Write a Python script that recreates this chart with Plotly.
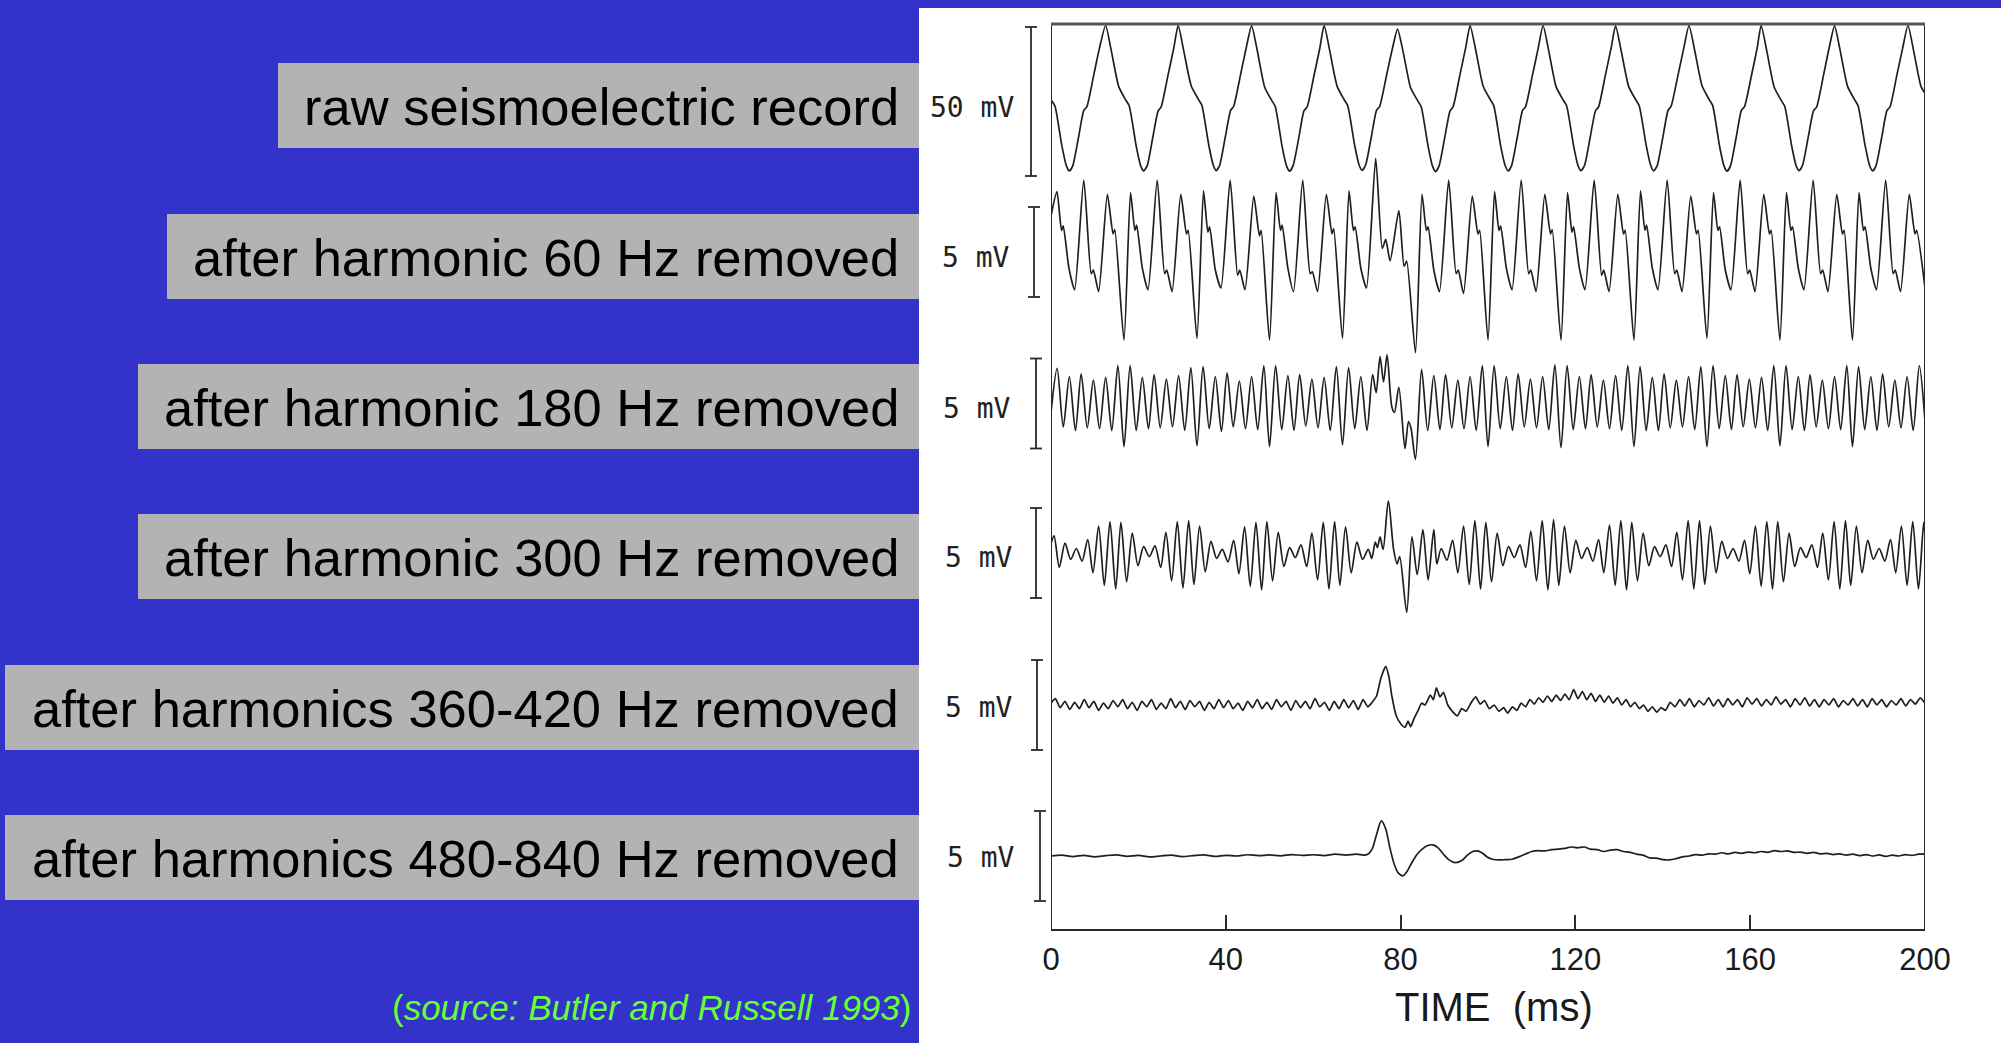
import plotly.graph_objects as go

W, H = 2001, 1043
BLUE = "#3333CC"
GREY = "#B3B3B3"
GREEN = "#66FF33"
INK = "#1f1f1f"
SANS = "Liberation Sans, Arial, sans-serif"
MONO = "DejaVu Sans Mono, monospace"

# ---------------------------------------------------------------- text
LABELS = [
    "raw seismoelectric record",
    "after harmonic 60 Hz removed",
    "after harmonic 180 Hz removed",
    "after harmonic 300 Hz removed",
    "after harmonics 360-420 Hz removed",
    "after harmonics 480-840 Hz removed",
]
SCALE_TEXT = ["50 mV", "5 mV", "5 mV", "5 mV", "5 mV", "5 mV"]
SCALE_MV = [50, 5, 5, 5, 5, 5]
TIME_TICKS = [0, 40, 80, 120, 160, 200]
SOURCE = "(<i>source: Butler and Russell 1993</i>)"
X_TITLE = "TIME\u00a0\u00a0(ms)"

# ---------------------------------------------------------------- records (time in ms, voltage in mV)
raw_t = [
    0.0, 0.9, 2.5, 3.5, 4.2, 5.0, 6.3, 7.5, 8.2, 9.8, 11.1,
    12.5, 13.8, 15.5, 17.1, 17.9, 19.5, 20.5, 21.2, 22.0, 23.3, 24.5, 25.2, 26.8, 28.1,
    29.1, 30.4, 32.1, 33.7, 34.5, 36.1, 37.1, 37.8, 38.6, 39.9, 41.1, 41.8, 43.4, 44.7,
    45.9, 47.2, 48.9, 50.5, 51.3, 52.9, 53.9, 54.6, 55.4, 56.7, 57.9, 58.6, 60.2, 61.5,
    62.5, 63.8, 65.5, 67.1, 67.9, 69.5, 70.5, 71.2, 72.0, 73.3, 74.5, 75.2, 76.8, 78.1,
    79.3, 80.6, 82.3, 83.9, 84.7, 86.3, 87.3, 88.0, 88.8, 90.1, 91.3, 92.0, 93.6, 94.9,
    95.9, 97.2, 98.9, 100.5, 101.3, 102.9, 103.9, 104.6, 105.4, 106.7, 107.9, 108.6, 110.2, 111.5,
    112.6, 113.9, 115.6, 117.2, 118.0, 119.6, 120.6, 121.3, 122.1, 123.4, 124.6, 125.3, 126.9, 128.2,
    129.2, 130.5, 132.2, 133.8, 134.6, 136.2, 137.2, 137.9, 138.7, 140.0, 141.2, 141.9, 143.5, 144.8,
    146.0, 147.3, 149.0, 150.6, 151.4, 153.0, 154.0, 154.7, 155.5, 156.8, 158.0, 158.7, 160.3, 161.6,
    162.5, 163.8, 165.5, 167.1, 167.9, 169.5, 170.5, 171.2, 172.0, 173.3, 174.5, 175.2, 176.8, 178.1,
    179.3, 180.6, 182.3, 183.9, 184.7, 186.3, 187.3, 188.0, 188.8, 190.1, 191.3, 192.0, 193.6, 194.9,
    196.1, 197.4, 199.1, 200.0,
]
raw_mv = [
    0.6, -1.5, -15.0, -21.5, -23.3, -21.5, -12.0, -3.0, -1.8, 9.0, 18.0,
    25.5, 17.0, 5.0, 0.5, -1.5, -15.0, -21.5, -23.3, -21.6, -12.0, -3.2, -1.8, 9.0, 18.0,
    25.5, 16.8, 5.2, 0.8, -1.2, -14.6, -21.2, -23.2, -21.4, -11.8, -3.0, -1.6, 9.2, 18.2,
    25.4, 17.1, 4.8, 0.4, -1.6, -15.2, -21.6, -23.4, -21.5, -12.2, -3.1, -1.9, 8.8, 17.8,
    25.5, 16.9, 5.0, 0.6, -1.4, -14.8, -21.3, -23.1, -21.3, -11.9, -2.9, -1.7, 8.9, 17.6,
    24.3, 16.5, 4.6, 0.3, -1.7, -15.1, -21.7, -23.5, -21.6, -12.1, -3.2, -1.8, 9.1, 18.1,
    25.5, 17.2, 5.1, 0.7, -1.3, -14.9, -21.4, -23.3, -21.5, -12.0, -3.0, -1.7, 9.0, 18.0,
    25.5, 17.0, 4.9, 0.5, -1.5, -15.0, -21.5, -23.2, -21.4, -11.9, -3.1, -1.8, 9.1, 18.1,
    25.4, 16.8, 5.0, 0.6, -1.4, -14.7, -21.3, -23.3, -21.6, -12.1, -3.0, -1.6, 9.0, 17.9,
    25.5, 17.1, 5.2, 0.7, -1.3, -15.1, -21.6, -23.4, -21.5, -12.0, -2.9, -1.7, 8.8, 18.0,
    25.5, 16.9, 4.8, 0.4, -1.6, -15.0, -21.5, -23.2, -21.3, -11.8, -3.1, -1.9, 9.0, 18.2,
    25.4, 17.0, 5.0, 0.6, -1.5, -14.8, -21.4, -23.3, -21.5, -12.0, -3.0, -1.8, 9.1, 18.0,
    25.5, 17.0, 5.0, 2.8,
]

h60_t = [
    0.0, 1.35, 2.4, 2.8, 4.1, 5.4, 7.5, 9.2, 9.7, 10.9, 12.9, 14.2, 14.6,
    16.7, 18.2, 19.2, 19.6, 20.9, 22.2, 24.3, 26.0, 26.5, 27.7, 29.7, 31.0, 31.4,
    33.4, 34.9, 35.9, 36.3, 37.6, 38.9, 41.0, 42.7, 43.2, 44.4, 46.4, 47.7, 48.1,
    50.0, 51.5, 52.5, 52.9, 54.2, 55.5, 57.6, 59.3, 59.8, 61.0, 63.0, 64.3, 64.7,
    66.7, 68.2, 69.2, 69.6, 70.9, 72.2, 74.3, 75.8, 76.6, 77.6, 79.6, 80.8, 81.4,
    83.4, 84.9, 85.9, 86.3, 87.6, 88.9, 91.0, 92.7, 93.2, 94.4, 96.4, 97.7, 98.1,
    100.0, 101.5, 102.5, 102.9, 104.2, 105.5, 107.6, 109.3, 109.8, 111.0, 113.0, 114.3, 114.7,
    116.7, 118.2, 119.2, 119.6, 120.9, 122.2, 124.3, 126.0, 126.5, 127.7, 129.7, 131.0, 131.4,
    133.4, 134.9, 135.9, 136.3, 137.6, 138.9, 141.0, 142.7, 143.2, 144.4, 146.4, 147.7, 148.1,
    150.1, 151.6, 152.6, 153.0, 154.3, 155.6, 157.7, 159.4, 159.9, 161.1, 163.1, 164.4, 164.8,
    166.8, 168.3, 169.3, 169.7, 171.0, 172.3, 174.4, 176.1, 176.6, 177.8, 179.8, 181.1, 181.5,
    183.4, 184.9, 185.9, 186.3, 187.6, 188.9, 191.0, 192.7, 193.2, 194.4, 196.4, 197.7, 198.1, 200.0,
]
h60_mv = [
    2.0, 3.35, 1.2, 1.45, -0.9, -2.1, 4.0, -1.2, -1.0, -2.2, 3.2, 1.0, 1.25,
    -4.9, 3.3, 1.2, 1.5, -0.9, -2.1, 4.0, -1.2, -1.0, -2.2, 3.2, 1.0, 1.2,
    -4.8, 3.4, 1.1, 1.4, -1.0, -2.0, 4.0, -1.3, -1.0, -2.1, 3.1, 0.9, 1.2,
    -4.9, 3.3, 1.2, 1.5, -0.9, -2.2, 4.0, -1.2, -1.1, -2.2, 3.2, 1.0, 1.3,
    -4.8, 3.4, 1.2, 1.4, -0.9, -2.0, 5.2, 0.2, 0.7, -0.5, 2.3, -0.8, -0.5,
    -5.6, 3.2, 1.2, 1.4, -1.0, -2.2, 4.0, -1.2, -1.0, -2.3, 3.1, 1.0, 1.2,
    -4.9, 3.35, 1.2, 1.45, -0.9, -2.1, 4.0, -1.2, -1.0, -2.2, 3.2, 1.0, 1.25,
    -4.9, 3.3, 1.1, 1.4, -0.9, -2.1, 4.0, -1.3, -1.0, -2.2, 3.2, 1.0, 1.2,
    -4.9, 3.4, 1.2, 1.5, -0.9, -2.1, 4.0, -1.2, -1.0, -2.2, 3.1, 1.0, 1.2,
    -4.8, 3.3, 1.2, 1.4, -1.0, -2.1, 4.0, -1.2, -1.0, -2.2, 3.2, 1.0, 1.2,
    -4.9, 3.3, 1.2, 1.4, -0.9, -2.1, 4.0, -1.2, -1.0, -2.2, 3.2, 1.0, 1.2,
    -4.9, 3.3, 1.2, 1.4, -0.9, -2.1, 4.0, -1.2, -1.0, -2.2, 3.2, 1.0, 1.2, -2.0,
]

h180_t = [
    0.0, 1.4, 2.8, 4.2, 5.6, 6.9, 8.3, 9.7, 11.1, 12.5, 13.9, 15.3,
    16.7, 18.1, 19.5, 20.9, 22.3, 23.6, 25.0, 26.4, 27.8, 29.2, 30.6, 32.0,
    33.4, 34.8, 36.2, 37.6, 39.0, 40.3, 41.7, 43.1, 44.5, 45.9, 47.3, 48.7,
    50.0, 51.4, 52.8, 54.2, 55.6, 56.9, 58.3, 59.7, 61.1, 62.5, 63.9, 65.3,
    66.7, 68.1, 69.5, 70.9, 72.3, 73.6, 74.4, 75.3, 76.1, 76.9, 78.0, 78.6, 79.6, 81.0, 81.8, 82.4,
    83.4, 84.8, 86.2, 87.6, 89.0, 90.3, 91.7, 93.1, 94.5, 95.9, 97.3, 98.7,
    100.0, 101.4, 102.8, 104.2, 105.6, 106.9, 108.3, 109.7, 111.1, 112.5, 113.9, 115.3,
    116.7, 118.1, 119.5, 120.9, 122.3, 123.6, 125.0, 126.4, 127.8, 129.2, 130.6, 132.0,
    133.4, 134.8, 136.2, 137.6, 139.0, 140.3, 141.7, 143.1, 144.5, 145.9, 147.3, 148.7,
    150.1, 151.5, 152.9, 154.3, 155.7, 157.0, 158.4, 159.8, 161.2, 162.6, 164.0, 165.4,
    166.8, 168.2, 169.6, 171.0, 172.4, 173.7, 175.1, 176.5, 177.9, 179.3, 180.7, 182.1,
    183.4, 184.8, 186.2, 187.6, 189.0, 190.3, 191.7, 193.1, 194.5, 195.9, 197.3, 198.7, 200.0,
]
h180_mv = [
    -0.5, 1.95, -1.3, 1.5, -1.5, 1.65, -1.35, 1.3, -1.4, 1.45, -1.5, 2.1,
    -2.4, 2.1, -1.5, 1.45, -1.4, 1.6, -1.35, 1.35, -1.3, 1.55, -1.5, 2.0,
    -2.35, 2.05, -1.4, 1.5, -1.55, 1.7, -1.3, 1.25, -1.4, 1.5, -1.45, 2.1,
    -2.4, 2.1, -1.45, 1.55, -1.5, 1.6, -1.25, 1.35, -1.35, 1.45, -1.5, 2.05,
    -2.3, 2.0, -1.4, 1.5, -1.5, 1.6, 0.6, 2.6, 1.2, 2.7, -0.2, -0.5, 0.9, -2.5, -1.0, -1.4,
    -3.1, 1.9, -1.5, 1.55, -1.45, 1.6, -1.35, 1.3, -1.4, 1.5, -1.5, 2.1,
    -2.4, 2.1, -1.4, 1.5, -1.5, 1.65, -1.3, 1.35, -1.35, 1.5, -1.45, 2.15,
    -2.45, 2.1, -1.45, 1.5, -1.4, 1.6, -1.3, 1.3, -1.4, 1.55, -1.5, 2.1,
    -2.4, 2.05, -1.5, 1.45, -1.5, 1.65, -1.35, 1.3, -1.3, 1.5, -1.45, 2.05,
    -2.4, 2.1, -1.4, 1.55, -1.45, 1.6, -1.3, 1.35, -1.35, 1.45, -1.5, 2.1,
    -2.35, 2.1, -1.45, 1.5, -1.5, 1.6, -1.3, 1.3, -1.4, 1.5, -1.45, 2.1,
    -2.4, 2.05, -1.45, 1.5, -1.5, 1.65, -1.3, 1.3, -1.35, 1.5, -1.5, 2.1, -1.0,
]

h300_t = [
    0.0, 0.7, 1.9, 3.2, 4.5,
    5.8, 7.1, 8.4, 9.6, 10.9, 12.2, 13.5, 14.8, 16.0, 17.3, 18.6, 19.9, 21.2,
    22.5, 23.8, 25.1, 26.3, 27.6, 28.9, 30.2, 31.5, 32.7, 34.0, 35.3, 36.6, 37.9,
    39.2, 40.5, 41.8, 43.0, 44.3, 45.6, 46.9, 48.2, 49.4, 50.7, 52.0, 53.3, 54.6,
    55.9, 57.2, 58.5, 59.7, 61.0, 62.3, 63.6, 64.9, 66.1, 67.4, 68.7, 70.0, 71.3,
    72.6, 73.4, 74.2, 74.7, 75.3, 76.0, 77.2, 78.4, 79.2, 79.8, 81.4, 82.6, 83.8, 85.1, 86.3, 87.6, 88.3,
    89.3, 90.6, 91.9, 93.1, 94.4, 95.7, 97.0, 98.3, 99.5, 100.8, 102.1, 103.4, 104.7,
    106.0, 107.3, 108.6, 109.8, 111.1, 112.4, 113.7, 115.0, 116.2, 117.5, 118.8, 120.1, 121.4,
    122.7, 124.0, 125.3, 126.5, 127.8, 129.1, 130.4, 131.7, 132.9, 134.2, 135.5, 136.8, 138.1,
    139.4, 140.7, 142.0, 143.2, 144.5, 145.8, 147.1, 148.4, 149.6, 150.9, 152.2, 153.5, 154.8,
    156.1, 157.4, 158.7, 159.9, 161.2, 162.5, 163.8, 165.1, 166.3, 167.6, 168.9, 170.2, 171.5,
    172.8, 174.1, 175.4, 176.6, 177.9, 179.2, 180.5, 181.8, 183.0, 184.3, 185.6, 186.9, 188.2,
    189.5, 190.8, 192.1, 193.3, 194.6, 195.9, 197.2, 198.5, 199.7, 200.0,
]
h300_mv = [
    0.5, 0.95, -0.8, 0.55, -0.35,
    0.25, -0.45, 0.75, -1.1, 1.5, -1.8, 1.75, -2.0, 1.7, -1.6, 1.1, -0.7, 0.35,
    -0.2, 0.4, -0.8, 1.15, -1.55, 1.75, -1.95, 1.8, -1.75, 1.5, -1.05, 0.65, -0.3,
    0.2, -0.5, 0.7, -1.15, 1.45, -1.85, 1.7, -2.05, 1.75, -1.55, 1.15, -0.75, 0.3,
    -0.25, 0.45, -0.75, 1.1, -1.5, 1.7, -2.0, 1.75, -1.8, 1.45, -1.1, 0.6, -0.35,
    0.2, -0.3, 0.6, 0.3, 0.9, 0.2, 2.9, 0.2, -0.6, -0.2, -3.3, 0.9, -1.2, 1.3, -1.5, 1.3, -0.6,
    0.25, -0.4, 0.7, -1.1, 1.5, -1.75, 1.8, -2.0, 1.7, -1.6, 1.1, -0.7, 0.35,
    -0.25, 0.45, -0.8, 1.2, -1.55, 1.8, -2.05, 1.85, -1.8, 1.5, -1.1, 0.7, -0.3,
    0.3, -0.45, 0.75, -1.1, 1.55, -1.8, 1.8, -2.05, 1.7, -1.55, 1.1, -0.7, 0.35,
    -0.2, 0.45, -0.75, 1.15, -1.5, 1.8, -2.0, 1.8, -1.75, 1.5, -1.1, 0.65, -0.3,
    0.25, -0.45, 0.7, -1.15, 1.5, -1.85, 1.75, -2.0, 1.75, -1.6, 1.1, -0.75, 0.3,
    -0.25, 0.45, -0.8, 1.1, -1.5, 1.75, -2.0, 1.8, -1.8, 1.5, -1.1, 0.7, -0.35,
    0.25, -0.45, 0.75, -1.1, 1.5, -1.8, 1.75, -2.0, 1.7, 1.0,
]

h420_t = [
    0.0, 1.0, 2.1, 3.2, 4.3, 5.4, 6.5, 7.6, 8.7, 9.8,
    10.9, 12.0, 13.1, 14.2, 15.3, 16.4, 17.5, 18.6, 19.7, 20.8,
    21.9, 23.0, 24.1, 25.2, 26.3, 27.4, 28.5, 29.6, 30.7, 31.8,
    32.9, 34.0, 35.1, 36.2, 37.3, 38.4, 39.5, 40.6, 41.7, 42.8,
    43.9, 45.0, 46.1, 47.2, 48.3, 49.4, 50.5, 51.6, 52.7, 53.8,
    54.9, 56.0, 57.1, 58.2, 59.3, 60.4, 61.5, 62.6, 63.7, 64.8,
    65.9, 67.0, 68.1, 69.2, 70.3, 71.4, 72.5,
    73.5, 74.5, 75.5, 76.6, 77.3, 78.0, 79.0, 80.2, 81.0, 81.7,
    82.3, 83.0, 84.0, 84.8, 85.6, 86.8, 87.5, 88.2, 89.0, 89.8,
    90.8, 92.0, 93.0, 94.0, 95.0, 96.2, 97.2, 98.2, 99.2, 100.3,
    101.4, 102.5, 103.6, 104.5, 105.6, 106.6, 107.6, 108.6, 109.6, 110.6,
    111.6, 112.6, 113.6, 114.6, 115.6, 116.6, 117.6, 118.6, 119.6, 120.6,
    121.6, 122.6, 123.6, 124.6, 125.6, 126.6, 127.6, 128.6, 129.6, 130.6,
    131.6, 132.6, 133.6, 134.6, 135.6, 136.6, 137.6, 138.6, 139.6, 140.6,
    141.7, 142.8, 143.9, 145.0, 146.1, 147.2, 148.3, 149.4, 150.5, 151.6,
    152.7, 153.8, 154.9, 156.0, 157.1, 158.2, 159.3, 160.4, 161.5, 162.6,
    163.7, 164.8, 165.9, 167.0, 168.1, 169.2, 170.3, 171.4, 172.5, 173.6,
    174.7, 175.8, 176.9, 178.0, 179.1, 180.2, 181.3, 182.4, 183.5, 184.6,
    185.7, 186.8, 187.9, 189.0, 190.1, 191.2, 192.3, 193.4, 194.5, 195.6,
    196.7, 197.8, 198.9, 200.0,
]
h420_mv = [
    0.1, 0.35, -0.15, 0.2, -0.25, 0.15, -0.2, 0.3, -0.15, 0.2,
    -0.3, 0.1, -0.2, 0.25, -0.1, 0.3, -0.2, 0.15, -0.3, 0.2,
    -0.1, 0.3, -0.25, 0.1, -0.2, 0.35, -0.15, 0.2, -0.25, 0.25,
    -0.1, 0.2, -0.3, 0.15, -0.2, 0.3, -0.15, 0.25, -0.2, 0.1,
    -0.3, 0.2, -0.15, 0.3, -0.2, 0.15, -0.25, 0.3, -0.1, 0.2,
    -0.3, 0.25, -0.15, 0.2, -0.2, 0.35, -0.1, 0.15, -0.3, 0.2,
    -0.2, 0.3, -0.15, 0.25, -0.25, 0.3, -0.1,
    0.15, 0.5, 1.5, 2.15, 1.6, 0.5, -0.6, -1.1, -1.25, -0.9,
    -1.2, -0.8, -0.3, 0.1, 0.0, 0.55, 0.3, 0.95, 0.45, 0.7,
    0.0, -0.4, -0.6, -0.2, -0.35, 0.15, 0.45, 0.05, 0.25, -0.2,
    0.0, -0.35, -0.15, -0.45, -0.1, -0.3, 0.1, -0.1, 0.3, 0.05,
    0.4, 0.15, 0.5, 0.2, 0.55, 0.25, 0.6, 0.3, 0.85, 0.35,
    0.75, 0.3, 0.65, 0.2, 0.55, 0.15, 0.5, 0.1, 0.4, 0.0,
    0.3, -0.1, 0.15, -0.2, 0.0, -0.35, -0.1, -0.4, -0.15, -0.3,
    0.15, -0.1, 0.3, -0.05, 0.35, -0.1, 0.25, 0.0, 0.4, -0.05,
    0.3, -0.1, 0.35, 0.0, 0.3, -0.1, 0.4, 0.05, 0.35, -0.05,
    0.3, 0.0, 0.45, 0.05, 0.3, -0.1, 0.35, 0.0, 0.4, -0.05,
    0.3, -0.1, 0.3, 0.0, 0.35, -0.1, 0.25, 0.0, 0.35, -0.05,
    0.3, -0.1, 0.35, 0.0, 0.3, -0.1, 0.25, 0.0, 0.35, -0.05,
    0.3, 0.05, 0.4, 0.1,
]

h840_t = [
    0.0, 2.5, 5.0, 7.5, 10.0, 12.5, 15.0, 17.5, 20.0, 22.5,
    25.0, 27.5, 30.0, 32.5, 35.0, 37.5, 40.0, 42.5, 45.0, 47.5,
    50.0, 52.5, 55.0, 57.5, 60.0, 62.5, 65.0, 67.5, 70.0, 71.5,
    72.5, 73.5, 74.5, 75.6, 76.6, 77.6, 78.6, 79.5, 80.5, 81.5,
    82.5, 83.8, 85.0, 86.2, 87.4, 88.6, 89.8, 91.0, 92.5, 94.0,
    95.3, 96.5, 97.5, 98.5, 99.8, 101.0, 102.5, 104.0, 105.5, 107.0,
    108.5, 110.0, 111.5, 113.0, 114.5, 116.0, 117.5, 119.0, 120.5, 122.0,
    123.5, 125.0, 126.5, 128.0, 129.5, 131.0, 132.5, 134.0, 135.5, 137.0,
    138.5, 140.0, 141.5, 143.0, 144.5, 146.0, 147.5, 149.0, 150.5, 152.0,
    153.5, 155.0, 156.5, 158.0, 159.5, 161.0, 162.5, 164.0, 165.5, 167.0,
    168.5, 170.0, 171.5, 173.0, 174.5, 176.0, 177.5, 179.0, 180.5, 182.0,
    183.5, 185.0, 186.5, 188.0, 189.5, 191.0, 192.5, 194.0, 195.5, 197.0,
    198.5, 200.0,
]
h840_mv = [
    0.0, 0.05, -0.03, 0.04, -0.05, 0.02, 0.06, -0.02, 0.03, -0.05,
    0.0, 0.05, -0.03, 0.02, 0.06, -0.02, 0.04, 0.0, 0.07, 0.02,
    0.06, 0.01, 0.08, 0.03, 0.07, 0.02, 0.1, 0.05, 0.1, 0.05,
    0.1, 0.4, 1.2, 1.95, 1.5, 0.4, -0.5, -0.95, -1.1, -0.85,
    -0.4, 0.1, 0.4, 0.58, 0.62, 0.45, 0.1, -0.2, -0.37, -0.25,
    0.05, 0.25, 0.28, 0.2, -0.05, -0.18, -0.22, -0.2, -0.18, -0.05,
    0.1, 0.25, 0.3, 0.28, 0.35, 0.38, 0.42, 0.5, 0.45, 0.5,
    0.38, 0.35, 0.25, 0.33, 0.35, 0.25, 0.2, 0.1, 0.05, -0.1,
    -0.12, -0.2, -0.22, -0.15, -0.05, 0.0, 0.08, 0.05, 0.12, 0.1,
    0.18, 0.12, 0.2, 0.15, 0.22, 0.18, 0.25, 0.2, 0.3, 0.25,
    0.28, 0.2, 0.22, 0.15, 0.2, 0.12, 0.15, 0.08, 0.12, 0.05,
    0.1, 0.02, 0.08, 0.0, 0.06, -0.02, 0.05, 0.0, 0.08, 0.03,
    0.1, 0.12,
]

RECORDS = [
    (raw_t, raw_mv),
    (h60_t, h60_mv),
    (h180_t, h180_mv),
    (h300_t, h300_mv),
    (h420_t, h420_mv),
    (h840_t, h840_mv),
]

# ---------------------------------------------------------------- page geometry (pixels)
BOX_TOP = [63, 214, 364, 514, 665, 815]
BOX_LEFT = [278, 167, 138, 138, 5, 5]
BOX_H = 85
TEXT_RIGHT = 901
PANEL_LEFT = 919
PANEL_TOP = 8
FRAME_L, FRAME_R, FRAME_T, FRAME_B = 1051, 1925, 24, 930
# zero line, px per mV, band top, band bottom
BANDS = [
    (101.5, 2.98, 20, 200),
    (252.0, 18.0, 150, 380),
    (403.5, 18.0, 330, 490),
    (553.0, 18.0, 470, 640),
    (705.0, 18.0, 630, 780),
    (856.0, 18.0, 780, 925),
]
SMOOTHING = [0.6, 0.6, 0.8, 0.8, 0.5, 0.8]
BAR_X = [1031, 1034, 1036, 1036, 1037, 1040]
BAR_LABEL_X = [972, 976, 977, 979, 979, 981]
BAR_LABEL_Y = [107, 258, 408, 557, 707, 857]


def fx(p):
    return p / W


def fy(p):
    return 1 - p / H


fig = go.Figure()
shapes = []
annotations = []
axes = {}

# white figure panel and grey caption boxes
shapes.append(dict(type="rect", xref="paper", yref="paper", layer="below",
                   x0=fx(PANEL_LEFT), x1=1, y0=0, y1=fy(PANEL_TOP),
                   fillcolor="white", line=dict(width=0)))
for i, lab in enumerate(LABELS):
    top = BOX_TOP[i]
    shapes.append(dict(type="rect", xref="paper", yref="paper", layer="below",
                       x0=fx(BOX_LEFT[i]), x1=fx(PANEL_LEFT),
                       y0=fy(top + BOX_H), y1=fy(top),
                       fillcolor=GREY, line=dict(width=0)))
    annotations.append(dict(text=lab, xref="paper", yref="paper",
                            x=fx(TEXT_RIGHT), y=fy(top + BOX_H / 2 + 1),
                            xanchor="right", yanchor="middle", showarrow=False,
                            font=dict(family=SANS, size=52.5, color="black")))

# one stacked y axis per record
for i, ((t, mv), (zero, ppm, top, bot)) in enumerate(zip(RECORDS, BANDS)):
    yname = "y" if i == 0 else f"y{i + 1}"
    ykey = "yaxis" if i == 0 else f"yaxis{i + 1}"
    axes[ykey] = dict(domain=[fy(bot), fy(top)],
                      range=[-(bot - zero) / ppm, (zero - top) / ppm],
                      visible=False, anchor="x", fixedrange=True)
    fig.add_trace(go.Scatter(x=t, y=mv, mode="lines", xaxis="x", yaxis=yname,
                             line=dict(color=INK, width=1.7, shape="spline",
                                       smoothing=SMOOTHING[i]),
                             hoverinfo="skip", showlegend=False))
    half = SCALE_MV[i] / 2
    bx = BAR_X[i]
    shapes.append(dict(type="line", xref="paper", yref=yname,
                       x0=fx(bx), x1=fx(bx), y0=-half, y1=half,
                       line=dict(color="#2a2a2a", width=1.8)))
    for yy in (-half, half):
        shapes.append(dict(type="line", xref="paper", yref=yname,
                           x0=fx(bx - 6), x1=fx(bx + 6), y0=yy, y1=yy,
                           line=dict(color="#2a2a2a", width=1.8)))
    annotations.append(dict(text=SCALE_TEXT[i], xref="paper", yref="paper",
                            x=fx(BAR_LABEL_X[i]), y=fy(BAR_LABEL_Y[i]),
                            xanchor="center", yanchor="middle", showarrow=False,
                            font=dict(family=MONO, size=28, color="#222")))

# frame around the records
shapes.append(dict(type="rect", xref="x", yref="paper",
                   x0=0, x1=200, y0=fy(FRAME_B), y1=fy(FRAME_T),
                   line=dict(color="#2a2a2a", width=2)))
shapes.append(dict(type="line", xref="x", yref="paper",
                   x0=0, x1=200, y0=fy(FRAME_T), y1=fy(FRAME_T),
                   line=dict(color="#555", width=3)))

annotations.append(dict(text=X_TITLE, xref="x", yref="paper",
                        x=101.3, y=fy(1007), xanchor="center", yanchor="middle",
                        showarrow=False, font=dict(family=SANS, size=40, color="#1a1a1a")))
annotations.append(dict(text=SOURCE, xref="paper", yref="paper",
                        x=fx(913), y=fy(1007), xanchor="right", yanchor="middle",
                        showarrow=False, font=dict(family=SANS, size=35, color=GREEN)))

fig.update_layout(
    width=W, height=H,
    margin=dict(l=0, r=0, t=0, b=0, pad=0, autoexpand=False),
    paper_bgcolor=BLUE,
    plot_bgcolor="rgba(0,0,0,0)",
    showlegend=False,
    shapes=shapes,
    annotations=annotations,
    xaxis=dict(domain=[fx(FRAME_L), fx(FRAME_R)], range=[0, 200],
               anchor="free", position=fy(FRAME_B),
               tickmode="array", tickvals=TIME_TICKS,
               ticks="inside", ticklen=15, tickwidth=2, tickcolor="#2a2a2a",
               ticklabelstandoff=8,
               tickfont=dict(family=SANS, size=31, color="#1a1a1a"),
               showgrid=False, zeroline=False, showline=False, fixedrange=True),
    **axes,
)

fig.write_html("out.html")
